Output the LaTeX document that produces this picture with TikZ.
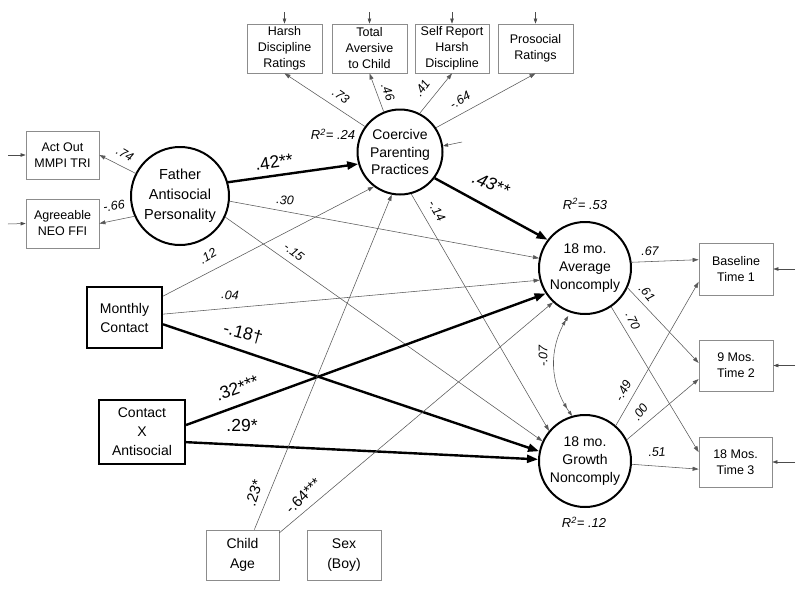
\documentclass[tikz,border=0pt]{standalone}
\usepackage{fontspec}
\setmainfont{Liberation Sans}
\usetikzlibrary{arrows.meta,bending}
\begin{document}
\begin{tikzpicture}[x=1pt,y=-1pt,
  ind/.style={draw=black!45, line width=0.8pt, rectangle, align=center, inner sep=0pt,
    font=\fontsize{12.5}{16}\selectfont},
  obs/.style={draw=black, line width=2pt, rectangle, align=center, inner sep=0pt,
    font=\fontsize{14}{19}\selectfont},
  lat/.style={draw=black, line width=2pt, circle, align=center, inner sep=0pt,
    font=\fontsize{14}{18}\selectfont},
  thin/.style={draw=black!65, line width=0.55pt, -{Triangle[length=6pt,width=4pt]}},
  thk/.style={draw=black, line width=2.4pt, -{Triangle[length=11pt,width=8pt]}},
  dist/.style={draw=black!70, line width=0.5pt, -{Triangle[length=5pt,width=3.5pt]}},
  sml/.style={font=\fontsize{12.5}{12.5}\itshape, inner sep=0pt},
  mid/.style={font=\fontsize{15}{15}\selectfont, inner sep=0pt},
  big/.style={font=\fontsize{17.5}{18}\selectfont, inner sep=0pt},
  rsq/.style={font=\fontsize{13}{13}\itshape, inner sep=0pt}]
\useasboundingbox (0,0) rectangle (800,592);
\fill[white] (0,0) rectangle (800,592);

% indicator boxes
\node[ind, minimum width=75pt, minimum height=49pt] (harsh) at (284.5,48.5) {Harsh\\Discipline\\Ratings};
\node[ind, minimum width=75pt, minimum height=49pt] (total) at (369.5,48.5) {Total\\Aversive\\to Child};
\node[ind, minimum width=74pt, minimum height=49pt] (selfr) at (452,48.5) {Self Report\\Harsh\\Discipline};
\node[ind, minimum width=75pt, minimum height=49pt] (prosoc) at (535.5,48.5) {Prosocial\\Ratings};
\node[ind, minimum width=73pt, minimum height=48pt] (actout) at (62.5,155) {Act Out\\MMPI TRI};
\node[ind, minimum width=73pt, minimum height=49pt] (agree) at (62.5,223.5) {Agreeable\\NEO FFI};
\node[obs, minimum width=75pt, minimum height=61pt] (monthly) at (124.5,317.5) {Monthly\\Contact};
\node[obs, minimum width=86pt, minimum height=64pt] (contactx) at (142,432) {Contact\\X\\Antisocial};
\node[ind, minimum width=73pt, minimum height=50pt, font=\fontsize{14}{20}\selectfont] (childage) at (242.5,555) {Child\\Age};
\node[ind, minimum width=74pt, minimum height=50pt, font=\fontsize{14}{20}\selectfont] (sex) at (344,555) {Sex\\(Boy)};
\node[ind, minimum width=74pt, minimum height=52pt] (baseline) at (736,269) {Baseline\\Time 1};
\node[ind, minimum width=74pt, minimum height=51pt] (nine) at (736,365.5) {9 Mos.\\Time 2};
\node[ind, minimum width=73pt, minimum height=50pt] (eighteen) at (735.5,462) {18 Mos.\\Time 3};

% latent circles
\node[lat, minimum size=98pt, font=\fontsize{14.5}{20}\selectfont] (father) at (180,196) {Father\\Antisocial\\Personality};
\node[lat, minimum size=85pt, font=\fontsize{14}{17.5}\selectfont] (coercive) at (400,152) {Coercive\\Parenting\\Practices};
\node[lat, minimum size=92pt] (average) at (585,268) {18 mo.\\Average\\Noncomply};
\node[lat, minimum size=92pt] (growth) at (585,461) {18 mo.\\Growth\\Noncomply};

% disturbance / error arrows
\coordinate (eh) at (284.5,12);
\coordinate (et) at (369.5,12);
\coordinate (es) at (452,12);
\coordinate (ep) at (535.5,12);
\coordinate (ea) at (8,155);
\coordinate (eg) at (8,224);
\coordinate (eb) at (795,269);
\coordinate (en) at (795,365.5);
\coordinate (ee) at (795,462);
\coordinate (ec) at (462,142);
\draw[dist] (eh) -- (harsh.north);
\draw[dist] (et) -- (total.north);
\draw[dist] (es) -- (selfr.north);
\draw[dist] (ep) -- (prosoc.north);
\draw[dist] (ea) -- (actout.west);
\draw[dist] (eg) -- (agree.west);
\draw[dist] (eb) -- (baseline.east);
\draw[dist] (en) -- (nine.east);
\draw[dist] (ee) -- (eighteen.east);
\draw[dist] (ec) -- (coercive.8);

% measurement paths
\draw[thin] (father.153) -- (actout.east);
\draw[thin] (father.204) -- (agree.east);
\draw[thin] (coercive.144) -- (harsh.south);
\draw[thin] (coercive.112) -- (total.south);
\draw[thin] (coercive.63) -- (selfr.south);
\draw[thin] (coercive.34) -- (prosoc.south);
\draw[thin] (average.7) -- (baseline.166);
\draw[thin] (average.-25) -- (nine.176);
\draw[thin] (average.-56) -- (eighteen.165);
\draw[thin] (growth.49) -- (baseline.199);
\draw[thin] (growth.27) -- (nine.200);
\draw[thin] (growth.-4) -- (eighteen.191);

% structural paths
\draw[thk] (father.16) -- (coercive.196);
\draw[thin] (father.-6) -- (average.168);
\draw[thin] (father.-25) -- (growth.155);
\draw[thin] (coercive.-75) -- (growth.140);
\draw[thk] (coercive.-37) -- (average.143);
\draw[thin] (monthly.29) -- (coercive.233);
\draw[thin] (monthly.5) -- (average.195);
\draw[thk] (monthly.-10) -- (growth.168);
\draw[thk] (contactx.9) -- (average.213);
\draw[thk] (contactx.-13) -- (growth.178);
\draw[thin] (childage.65) -- (coercive.259);
\draw[thin] (childage.31) -- (average.227);
\draw[draw=black!65, line width=0.55pt,
  {Triangle[length=5pt,width=3.5pt,sep=4pt]Triangle[length=5pt,width=3.5pt]}-{Triangle[length=5pt,width=3.5pt,sep=4pt]Triangle[length=5pt,width=3.5pt]}]
  (average.252) to[bend right=36] (growth.106);

% coefficient labels
\node[sml, rotate=-30] (l74) at (125,154) {.74};
\node[sml, rotate=8] (l66) at (114,206) {-.66};
\node[big, rotate=8] (l42) at (274,162) {.42**};
\node[sml, rotate=-3] (l30) at (285,200) {.30};
\node[sml, rotate=-38] (l15) at (294,252) {-.15};
\node[sml, rotate=30] (l12) at (208,256) {.12};
\node[sml, rotate=-3] (l04) at (230,295) {.04};
\node[big, rotate=-15] (l18) at (243,333) {-.18†};
\node[big, rotate=20] (l32) at (237,388) {.32***};
\node[big] (l29) at (242,425) {.29*};
\node[mid, rotate=72] (l23) at (254,493) {.23*};
\node[mid, rotate=45] (l64b) at (303,496) {-.64***};
\node[sml, rotate=-35] (l73) at (341,96) {.73};
\node[sml, rotate=-70] (l46) at (388,92) {.46};
\node[sml, rotate=55] (l41) at (422,88) {.41};
\node[sml, rotate=30] (l64) at (460,100) {-.64};
\node[rsq] (r24) at (333,134) {R\textsuperscript{2}= .24};
\node[big, rotate=-22, font=\fontsize{17.5}{18}\itshape] (l43) at (491,184) {.43**};
\node[rsq] (r53) at (585,204) {R\textsuperscript{2}= .53};
\node[sml, rotate=-60] (l14) at (437,211) {-.14};
\node[sml] (l67) at (650,251) {.67};
\node[sml, rotate=-50] (l61) at (647,293) {.61};
\node[sml, rotate=-65] (l70) at (633,321) {.70};
\node[sml, rotate=90] (l07) at (543,356) {-.07};
\node[sml, rotate=62] (l49) at (623,391) {-.49};
\node[sml, rotate=55] (l00) at (640,412) {.00};
\node[sml, rotate=3] (l51) at (657,452) {.51};
\node[rsq] (r12) at (584,522) {R\textsuperscript{2}= .12};
\end{tikzpicture}
\end{document}
